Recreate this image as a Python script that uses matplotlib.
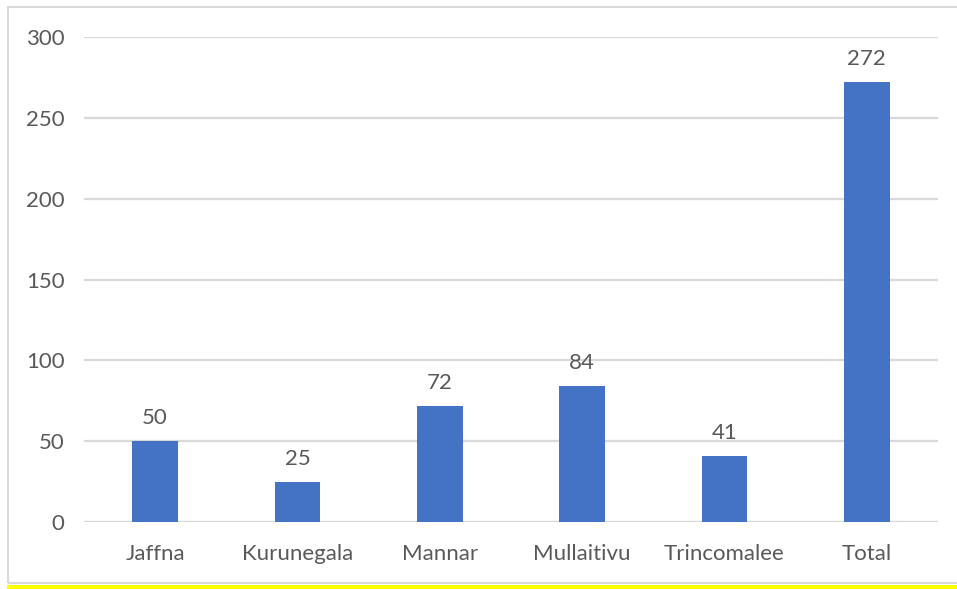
import matplotlib
matplotlib.use("Agg")
import matplotlib.pyplot as plt
from matplotlib.patches import Rectangle

categories = ["Jaffna", "Kurunegala", "Mannar", "Mullaitivu", "Trincomalee", "Total"]
values = [50, 25, 72, 84, 41, 272]
yticks = [0, 50, 100, 150, 200, 250, 300]

W, H = 957, 589
fig = plt.figure(figsize=(W / 100, H / 100), dpi=100)
plt.rcParams['font.family'] = ['Lato', 'DejaVu Sans']

# outer border and yellow strip
fig.patches.append(Rectangle((8 / W, 1 - 583 / H), (W + 5 - 8) / W, (583 - 7) / H,
                             transform=fig.transFigure, fill=False,
                             edgecolor="#d9d9d9", linewidth=1.5))
fig.patches.append(Rectangle((7 / W, 0), (W - 7) / W, 4 / H,
                             transform=fig.transFigure, facecolor="#ffff00",
                             edgecolor="none"))

ax = fig.add_axes([84 / W, (H - 522) / H, (938 - 84) / W, (522 - 37) / H])
x = list(range(len(categories)))
ax.bar(x, values, width=0.32, color="#4472C4", zorder=3)
for xi, v in zip(x, values):
    ax.text(xi, v + 8, str(v), ha="center", va="bottom", fontsize=16, color="#595959")

ax.set_xlim(-0.5, len(categories) - 0.5)
ax.set_ylim(0, 300)
ax.set_yticks(yticks)
ax.set_yticklabels([str(t) for t in yticks])
ax.set_xticks(x)
ax.set_xticklabels(categories)
ax.tick_params(axis="both", length=0, labelsize=16, labelcolor="#595959")
ax.tick_params(axis="y", pad=14)
ax.tick_params(axis="x", pad=16)
ax.yaxis.grid(True, color="#d9d9d9", linewidth=1.6, zorder=0)
ax.set_axisbelow(True)
for s in ax.spines.values():
    s.set_visible(False)
ax.axhline(0, color="#d9d9d9", linewidth=1.6, zorder=2)

fig.savefig("out.png", dpi=100)
